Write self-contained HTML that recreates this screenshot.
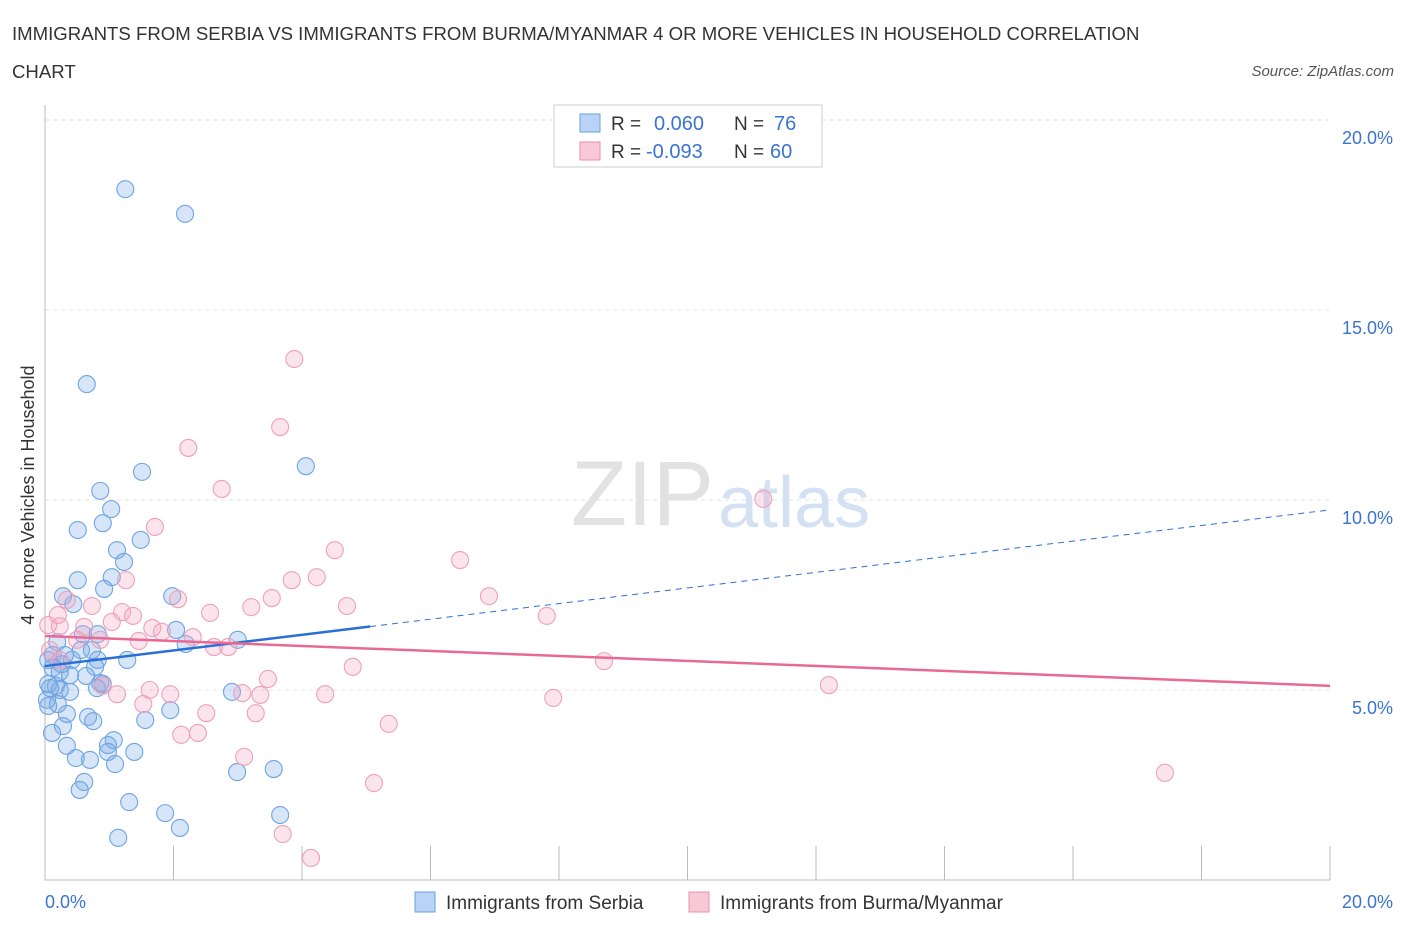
<!DOCTYPE html>
<html><head><meta charset="utf-8"><style>
body{margin:0;background:#fff;font-family:"Liberation Sans",sans-serif;}
svg text{font-family:"Liberation Sans",sans-serif;}
</style></head><body>
<svg width="1406" height="930">
<text x="12" y="40" font-size="18.6" fill="#333">IMMIGRANTS FROM SERBIA VS IMMIGRANTS FROM BURMA/MYANMAR 4 OR MORE VEHICLES IN HOUSEHOLD CORRELATION</text>
<text x="12" y="78" font-size="18.6" fill="#333">CHART</text>
<text x="1394" y="76" font-size="15" fill="#555" font-style="italic" text-anchor="end">Source: ZipAtlas.com</text>
<g id="grid"></g>
<text x="714" y="525" font-size="92" fill="#e2e2e2" text-anchor="end" font-family="Liberation Serif">ZIP</text>
<text x="718" y="527" font-size="72" fill="#d3e1f3">atlas</text>
<g id="marks"></g>
<text transform="translate(34,495) rotate(-90)" font-size="18" fill="#333" text-anchor="middle">4 or more Vehicles in Household</text>
<g>
<rect x="554" y="105" width="268" height="62" fill="#fff" stroke="#ccc"/>
<rect x="580" y="114" width="20" height="18" fill="#b8d3f5" stroke="#6aa0e0"/>
<text x="611" y="130" font-size="19" fill="#333">R =</text>
<text x="654" y="130" font-size="20" fill="#3a74d0">0.060</text>
<text x="734" y="130" font-size="19" fill="#333">N =</text>
<text x="774" y="130" font-size="20" fill="#3a74d0">76</text>
<rect x="580" y="142" width="20" height="18" fill="#f8c8d6" stroke="#e890ac"/>
<text x="611" y="158" font-size="19" fill="#333">R =</text>
<text x="646" y="158" font-size="20" fill="#3a74d0">-0.093</text>
<text x="734" y="158" font-size="19" fill="#333">N =</text>
<text x="770" y="158" font-size="20" fill="#3a74d0">60</text>
</g>
<g>
<rect x="415" y="892" width="20" height="20" fill="#b8d3f5" stroke="#6aa0e0"/>
<text x="446" y="909" font-size="19" fill="#333">Immigrants from Serbia</text>
<rect x="689" y="892" width="20" height="20" fill="#f8c8d6" stroke="#e890ac"/>
<text x="720" y="909" font-size="19" fill="#333">Immigrants from Burma/Myanmar</text>
</g>
</svg>
<script>
const yTicks=[5,10,15,20];
const yTickLabels=["5.0%","10.0%","15.0%","20.0%"];
const xTickLabels=["0.0%","20.0%"];
const serbiaX=[1.25,2.18,0.65,4.06,1.51,0.86,1.03,0.51,0.90,1.49,1.12,1.23,1.04,0.51,0.92,0.28,1.98,0.44,0.59,0.82,0.19,2.04,3.00,2.19,0.56,0.73,0.12,0.05,0.42,0.26,0.82,1.28,0.78,0.12,0.39,0.64,0.86,0.17,0.05,0.23,0.39,0.81,2.91,0.90,1.95,0.05,0.20,0.67,0.34,1.56,0.28,0.75,0.11,1.07,0.34,0.98,1.39,0.98,0.48,0.70,1.09,2.99,3.56,0.61,0.54,1.31,1.87,3.66,2.10,1.14,0.03,0.08,0.23,0.31];
const serbiaY=[18.18,17.53,13.05,10.89,10.74,10.24,9.76,9.21,9.39,8.95,8.68,8.37,7.97,7.89,7.66,7.47,7.47,7.26,6.47,6.47,6.26,6.58,6.32,6.21,6.05,6.05,5.92,5.79,5.79,5.68,5.79,5.79,5.61,5.58,5.39,5.37,5.18,5.11,5.16,5.00,4.95,5.05,4.95,5.16,4.47,4.58,4.63,4.29,4.37,4.21,4.05,4.18,3.87,3.68,3.53,3.55,3.37,3.37,3.21,3.16,3.05,2.84,2.92,2.58,2.37,2.05,1.76,1.71,1.37,1.11,4.74,5.05,5.47,5.92];
const burmaX=[3.88,3.66,2.23,2.75,11.18,1.71,4.51,6.46,1.26,3.84,4.23,0.34,2.07,6.91,3.53,0.73,1.20,1.37,2.57,3.21,4.70,7.81,1.04,0.23,0.05,0.61,1.67,1.82,2.30,0.50,1.46,2.63,2.85,8.70,4.79,3.47,0.90,12.20,1.95,1.12,3.07,3.35,4.36,1.53,7.91,2.51,3.28,2.12,2.38,5.35,3.10,5.12,17.43,3.70,4.14,0.08,0.23,0.86,1.63,0.20];
const burmaY=[13.71,11.92,11.37,10.29,10.03,9.29,8.68,8.42,7.89,7.89,7.97,7.37,7.39,7.47,7.42,7.21,7.05,6.95,7.03,7.18,7.21,6.95,6.79,6.68,6.71,6.66,6.63,6.53,6.39,6.32,6.29,6.13,6.13,5.76,5.61,5.29,5.11,5.13,4.89,4.89,4.92,4.87,4.89,4.63,4.79,4.39,4.39,3.82,3.87,4.11,3.24,2.55,2.82,1.21,0.58,6.05,5.79,6.32,5.00,6.97];
const serbiaTrend=[5.63,9.74];
const burmaTrend=[6.42,5.11];
const serbiaSolidEnd=5.06;
const NS="http://www.w3.org/2000/svg";
const X=v=>45+v*64.25, Y=v=>880-v*38;
function mk(t,a,p){const e=document.createElementNS(NS,t);for(const k in a)e.setAttribute(k,a[k]);p.appendChild(e);return e;}
const g=document.getElementById('grid'), m=document.getElementById('marks');
yTicks.forEach((t,i)=>{
 const l=mk('line',{x1:45,x2:1330,y1:Y(t),y2:Y(t),stroke:'#e2e2e2','stroke-dasharray':'4,4'},g);
 
 
 const tx=mk('text',{x:1393,y:Y(t)+24,'font-size':18,fill:'#3a74d0','text-anchor':'end'},g);
 tx.textContent=yTickLabels[i];
 
 
});
for(let i=1;i<=10;i++){const l=mk('line',{x1:X(i*2),x2:X(i*2),y1:846,y2:880,stroke:'#bbb'},g);
 
 }
const ax=mk('path',{d:'M45,105V880H1330',fill:'none',stroke:'#bbb'},g);


[[0,45,'start'],[20,1393,'end']].forEach((a,i)=>{const t=mk('text',{x:a[1],y:908,'font-size':18,fill:'#3a74d0','text-anchor':a[2]},g);t.textContent=xTickLabels[i];
 
 });
serbiaX.forEach((v,i)=>{const c=mk('circle',{cx:X(v),cy:Y(serbiaY[i]),r:8.5,fill:'rgba(120,170,230,0.3)',stroke:'#6ea4e4','stroke-width':1.1},m);
 
 });
burmaX.forEach((v,i)=>{const c=mk('circle',{cx:X(v),cy:Y(burmaY[i]),r:8.5,fill:'rgba(245,165,192,0.3)',stroke:'#eea0ba','stroke-width':1.1},m);
 
 });
const sy=x=>serbiaTrend[0]+(serbiaTrend[1]-serbiaTrend[0])*x/20;
const l1=mk('line',{x1:X(0),y1:Y(sy(0)),x2:X(serbiaSolidEnd),y2:Y(sy(serbiaSolidEnd)),stroke:'#2a6fd6','stroke-width':2.5},m);


const l2=mk('line',{x1:X(serbiaSolidEnd),y1:Y(sy(serbiaSolidEnd)),x2:X(20),y2:Y(sy(20)),stroke:'#2a6fd6','stroke-width':1,'stroke-dasharray':'6,5'},m);


const l3=mk('line',{x1:X(0),y1:Y(burmaTrend[0]),x2:X(20),y2:Y(burmaTrend[1]),stroke:'#e86a94','stroke-width':2.5},m);


</script>
</body></html>
